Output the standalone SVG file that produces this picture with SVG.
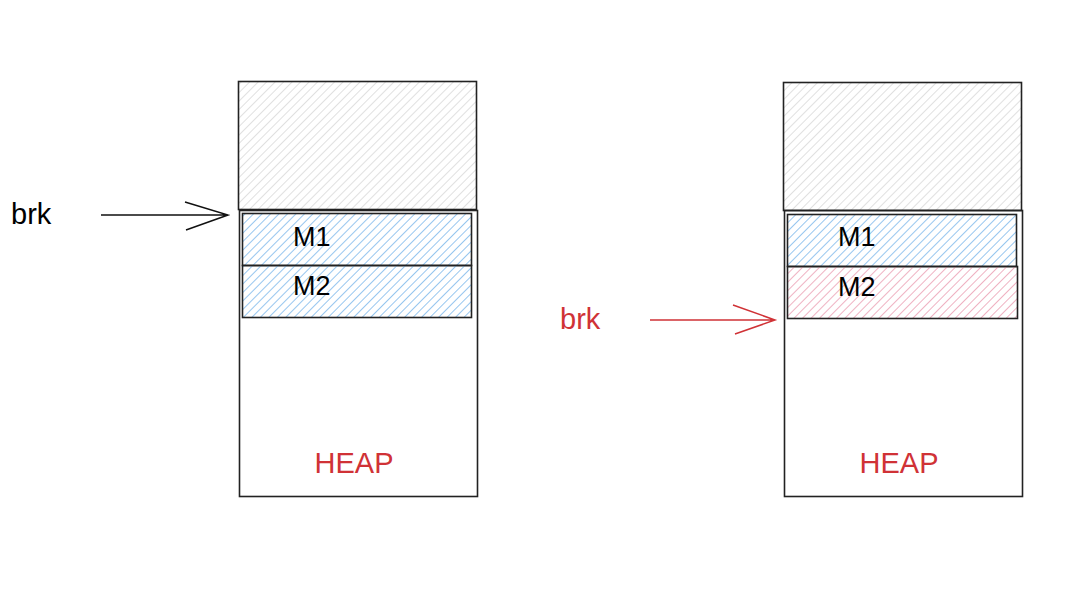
<svg xmlns="http://www.w3.org/2000/svg" width="1080" height="589" viewBox="0 0 1080 589">
<style>
.box{stroke:#222;stroke-width:1.6}
.t{font-family:"Liberation Sans",Arial,sans-serif}
.red{fill:#d03236}
</style>
<defs>
<pattern id="hg" patternUnits="userSpaceOnUse" width="6" height="6" patternTransform="rotate(45)"><line x1="0" y1="0" x2="0" y2="6" stroke="#d2d2d2" stroke-width="1.4"/></pattern>
<pattern id="hb" patternUnits="userSpaceOnUse" width="6" height="6" patternTransform="rotate(45)"><line x1="0" y1="0" x2="0" y2="6" stroke="#6aaee8" stroke-width="1.4"/></pattern>
<pattern id="hr" patternUnits="userSpaceOnUse" width="6" height="6" patternTransform="rotate(45)"><line x1="0" y1="0" x2="0" y2="6" stroke="#e890a8" stroke-width="1.4"/></pattern>
</defs>
<rect width="1080" height="589" fill="#fff"/>
<g id="left">
<rect class="box" x="238.5" y="81.5" width="238" height="128" fill="url(#hg)"/>
<rect class="box" x="239.5" y="210.5" width="238" height="286" fill="none"/>
<rect class="box" x="242.5" y="213.5" width="229" height="52" fill="url(#hb)"/>
<rect class="box" x="242.5" y="265.5" width="229" height="52" fill="url(#hb)"/>
<text class="t" x="293" y="246" font-size="27">M1</text>
<text class="t" x="293" y="295" font-size="27">M2</text>
<text class="t red" x="354" y="473" font-size="29" text-anchor="middle">HEAP</text>
<text class="t" x="11" y="224" font-size="29">brk</text>
</g>
<g id="right">
<rect class="box" x="783.5" y="82.5" width="238" height="128" fill="url(#hg)"/>
<rect class="box" x="784.5" y="210.5" width="238" height="286" fill="none"/>
<rect class="box" x="787.5" y="214.5" width="229" height="52" fill="url(#hb)"/>
<rect class="box" x="787.5" y="266.5" width="230" height="52" fill="url(#hr)"/>
<text class="t" x="838" y="246" font-size="27">M1</text>
<text class="t" x="838" y="296" font-size="27">M2</text>
<text class="t red" x="899" y="473" font-size="29" text-anchor="middle">HEAP</text>
<text class="t red" x="560" y="329" font-size="29">brk</text>
</g>
<g id="connectors" fill="none" stroke-width="1.5">
<path d="M101 215H228M185 202L228 215L186 230" stroke="#111"/>
<path d="M650 320H775M733 305L775 320L735 334" stroke="#d03236"/>
</g>
</svg>
